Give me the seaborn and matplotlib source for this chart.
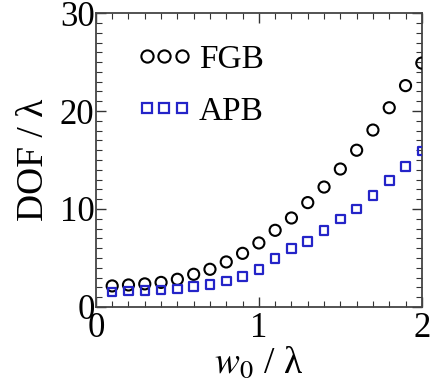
import matplotlib
matplotlib.use("Agg")
import matplotlib.pyplot as plt
from matplotlib.lines import Line2D
from matplotlib.ticker import MultipleLocator
import seaborn as sns
import pandas as pd

w0 = [0.1, 0.2, 0.3, 0.4, 0.5, 0.6, 0.7, 0.8, 0.9, 1.0,
      1.1, 1.2, 1.3, 1.4, 1.5, 1.6, 1.7, 1.8, 1.9, 2.0]
fgb = [2.14, 2.24, 2.35, 2.5, 2.82, 3.33, 3.84, 4.59, 5.47, 6.53,
       7.82, 9.08, 10.65, 12.24, 14.08, 16.0, 18.06, 20.34, 22.6, 24.9]
apb = [1.53, 1.63, 1.7, 1.73, 1.84, 2.07, 2.28, 2.65, 3.13, 3.81,
       4.93, 5.99, 6.67, 7.79, 8.98, 10.0, 11.36, 12.89, 14.35, 15.92]
labels = ["FGB", "APB"]

sns.set_theme(style="ticks")
plt.rcParams["font.family"] = ["Liberation Serif", "DejaVu Serif"]
plt.rcParams["mathtext.fontset"] = "stix"
plt.rcParams["text.color"] = "black"
plt.rcParams["axes.labelcolor"] = "black"

df = pd.DataFrame({"w0": w0, "FGB": fgb, "APB": apb})

fig = plt.figure(figsize=(4.3, 3.87), dpi=100)
ax = fig.add_axes([0.223, 0.207, 0.758, 0.759])

blue = "#2424c8"
sns.scatterplot(data=df, x="w0", y="FGB", ax=ax, marker="o", s=64,
                facecolor="none", edgecolor="black", linewidth=1.5, legend=False, zorder=3)
sns.scatterplot(data=df, x="w0", y="APB", ax=ax, marker="s", s=38,
                facecolor="none", edgecolor=blue, linewidth=1.6, legend=False, zorder=3)

ax.set_xlim(0, 2)
ax.set_ylim(0, 30)
ax.xaxis.set_major_locator(MultipleLocator(1))
ax.xaxis.set_minor_locator(MultipleLocator(0.1))
ax.yaxis.set_major_locator(MultipleLocator(10))
ax.yaxis.set_minor_locator(MultipleLocator(1))
ax.tick_params(which="both", direction="in", top=True, right=True, colors="#333333",
               labelcolor="black", labelsize=25)
ax.tick_params(axis="y", pad=1)
ax.tick_params(axis="x", pad=4)
ax.tick_params(which="major", length=7, width=1)
ax.tick_params(which="minor", length=4, width=0.8)
for sp in ax.spines.values():
    sp.set_linewidth(1.3)
    sp.set_color("#444444")

ax.set_xlabel(r"$w_0$ / λ", fontsize=27, labelpad=0)
ax.set_ylabel("DOF / λ", fontsize=27, labelpad=6)

handles = [
    Line2D([], [], linestyle="none", marker="o", markersize=8.8, markerfacecolor="none",
           markeredgecolor="black", markeredgewidth=1.5),
    Line2D([], [], linestyle="none", marker="s", markersize=6.8, markerfacecolor="none",
           markeredgecolor=blue, markeredgewidth=1.6),
]
ax.legend(handles, labels, numpoints=3, frameon=False, loc="upper left",
          bbox_to_anchor=(0.085, 0.94), fontsize=24, handlelength=1.65,
          handletextpad=0.2, labelspacing=0.65, borderaxespad=0)

fig.savefig("out.png", dpi=100)
